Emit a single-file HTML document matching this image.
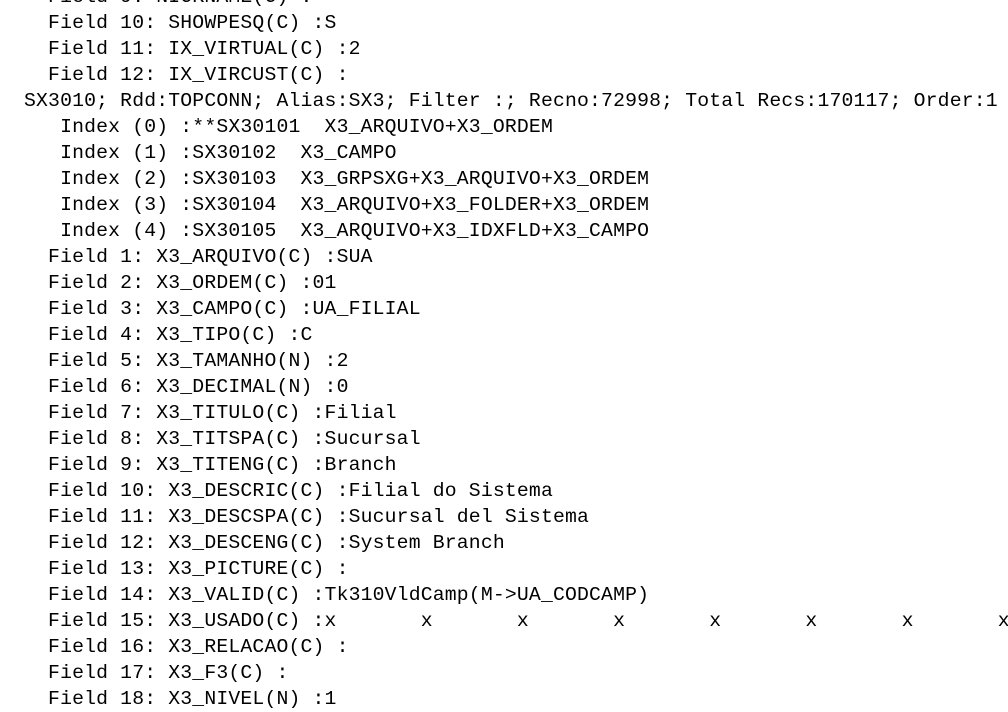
<!DOCTYPE html>
<html><head><meta charset="utf-8"><style>
html,body{margin:0;padding:0;background:#fff;width:1008px;height:703px;overflow:hidden}
pre{position:absolute;left:24px;top:-16px;margin:0;font-family:"Liberation Mono",monospace;font-size:19.75px;letter-spacing:0.17px;line-height:26px;color:#000;white-space:pre}
</style></head><body><pre>  Field 9: NICKNAME(C) :
  Field 10: SHOWPESQ(C) :S
  Field 11: IX_VIRTUAL(C) :2
  Field 12: IX_VIRCUST(C) :
SX3010; Rdd:TOPCONN; Alias:SX3; Filter :; Recno:72998; Total Recs:170117; Order:1
   Index (0) :**SX30101  X3_ARQUIVO+X3_ORDEM
   Index (1) :SX30102  X3_CAMPO
   Index (2) :SX30103  X3_GRPSXG+X3_ARQUIVO+X3_ORDEM
   Index (3) :SX30104  X3_ARQUIVO+X3_FOLDER+X3_ORDEM
   Index (4) :SX30105  X3_ARQUIVO+X3_IDXFLD+X3_CAMPO
  Field 1: X3_ARQUIVO(C) :SUA
  Field 2: X3_ORDEM(C) :01
  Field 3: X3_CAMPO(C) :UA_FILIAL
  Field 4: X3_TIPO(C) :C
  Field 5: X3_TAMANHO(N) :2
  Field 6: X3_DECIMAL(N) :0
  Field 7: X3_TITULO(C) :Filial
  Field 8: X3_TITSPA(C) :Sucursal
  Field 9: X3_TITENG(C) :Branch
  Field 10: X3_DESCRIC(C) :Filial do Sistema
  Field 11: X3_DESCSPA(C) :Sucursal del Sistema
  Field 12: X3_DESCENG(C) :System Branch
  Field 13: X3_PICTURE(C) :
  Field 14: X3_VALID(C) :Tk310VldCamp(M-&gt;UA_CODCAMP)
  Field 15: X3_USADO(C) :x       x       x       x       x       x       x       x
  Field 16: X3_RELACAO(C) :
  Field 17: X3_F3(C) :
  Field 18: X3_NIVEL(N) :1</pre></body></html>
